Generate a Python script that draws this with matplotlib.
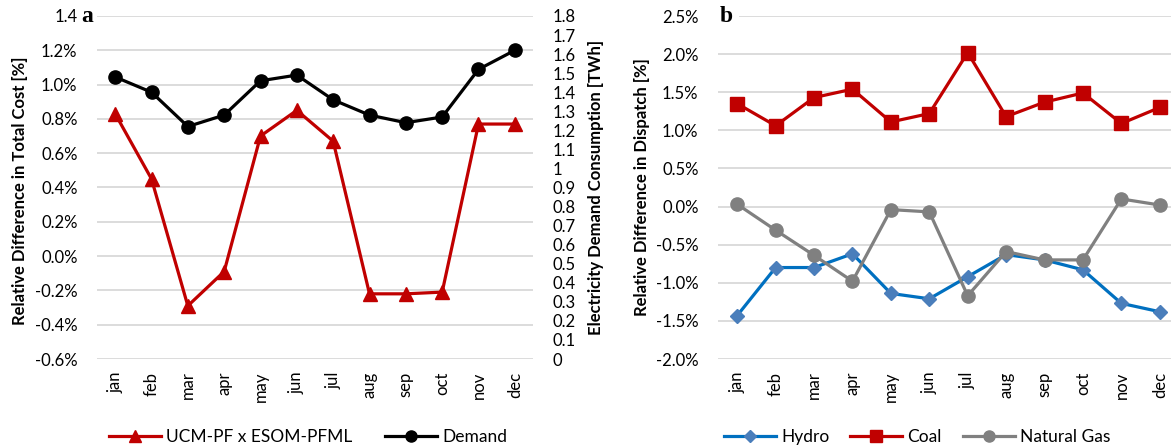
import matplotlib.pyplot as plt
from matplotlib.lines import Line2D

months = ['jan', 'feb', 'mar', 'apr', 'may', 'jun', 'jul', 'aug', 'sep', 'oct', 'nov', 'dec']

# panel a: cost difference (%) and monthly demand (TWh)
cost_diff = [0.83, 0.45, -0.29, -0.09, 0.70, 0.85, 0.67, -0.22, -0.22, -0.21, 0.77, 0.77]
demand = [1.48, 1.40, 1.22, 1.28, 1.46, 1.49, 1.36, 1.28, 1.24, 1.27, 1.52, 1.62]

# panel b: dispatch difference by source (%)
hydro = [-1.43, -0.80, -0.80, -0.62, -1.14, -1.21, -0.92, -0.63, -0.70, -0.83, -1.27, -1.38]
coal = [1.35, 1.06, 1.43, 1.54, 1.11, 1.22, 2.02, 1.18, 1.37, 1.49, 1.09, 1.30]
gas = [0.03, -0.31, -0.64, -0.98, -0.04, -0.07, -1.17, -0.59, -0.70, -0.70, 0.10, 0.02]

cost_ticks = [-0.6, -0.4, -0.2, 0.0, 0.2, 0.4, 0.6, 0.8, 1.0, 1.2, 1.4]
cost_labels = ['-0.6%', '-0.4%', '-0.2%', '0.0%', '0.2%', '0.4%', '0.6%', '0.8%', '1.0%', '1.2%', '1.4']
demand_ticks = [i / 10 for i in range(19)]
demand_labels = ['0', '0.1', '0.2', '0.3', '0.4', '0.5', '0.6', '0.7', '0.8', '0.9',
                 '1', '1.1', '1.2', '1.3', '1.4', '1.5', '1.6', '1.7', '1.8']
disp_ticks = [-2.0, -1.5, -1.0, -0.5, 0.0, 0.5, 1.0, 1.5, 2.0, 2.5]
disp_labels = ['-2.0%', '-1.5%', '-1.0%', '-0.5%', '0.0%', '0.5%', '1.0%', '1.5%', '2.0%', '2.5%']

RED = '#C00000'
BLUE = '#0070C0'
BLUE_MK = '#4A7EBB'
GRAY = '#808080'
GRID = '#D9D9D9'

plt.rcParams['font.family'] = ['Lato', 'DejaVu Sans']
plt.rcParams['font.size'] = 12

W, H = 1171, 448
fig = plt.figure(figsize=(W / 100, H / 100), dpi=100)


def box(x0, y0, x1, y1):
    return [x0 / W, 1 - y1 / H, (x1 - x0) / W, (y1 - y0) / H]


def style(ax):
    for s in ax.spines.values():
        s.set_visible(False)
    ax.tick_params(length=0)
    ax.grid(axis='y', color=GRID, lw=1.3)
    ax.set_axisbelow(True)


x = list(range(12))

# --- panel a ---
ax1 = fig.add_axes(box(97, 16, 533, 359))
style(ax1)
ax1.set_xlim(-0.5, 11.5)
ax1.set_ylim(-0.6, 1.4)
ax1.set_yticks(cost_ticks)
ax1.set_yticklabels(cost_labels)
ax1.set_xticks(x)
ax1.set_xticklabels(months, rotation=90)
ax1.tick_params(axis='x', pad=9)
ax1.tick_params(axis='y', pad=14)
ax1.set_ylabel('Relative Difference in Total Cost [%]', fontweight='bold', fontsize=12)
ax1.yaxis.set_label_coords(-0.158, 0.49)

ax2 = ax1.twinx()
for s in ax2.spines.values():
    s.set_visible(False)
ax2.tick_params(length=0, pad=14)
ax2.set_ylim(0, 1.8)
ax2.set_yticks(demand_ticks)
ax2.set_yticklabels(demand_labels)
ax2.set_ylabel('Electricity Demand Consumption [TWh]', fontweight='bold', fontsize=12)
ax2.yaxis.set_label_coords(1.127, 0.5)

ax1.plot(x, cost_diff, color=RED, lw=2.3, marker='^', ms=10, zorder=3)
ax2.plot(x, demand, color='black', lw=2.3, marker='o', ms=9.5, zorder=3)

ax1.text(-0.01, 1.0, 'a', transform=ax1.transAxes, family='Liberation Serif',
         fontweight='bold', fontsize=17, ha='right', va='center',
         bbox=dict(facecolor='white', edgecolor='none', pad=3))

# --- panel b ---
ax3 = fig.add_axes(box(718, 16, 1179, 359))
style(ax3)
ax3.set_xlim(-0.5, 11.5)
ax3.set_ylim(-2.0, 2.5)
ax3.set_yticks(disp_ticks)
ax3.set_yticklabels(disp_labels)
ax3.set_xticks(x)
ax3.set_xticklabels(months, rotation=90)
ax3.tick_params(axis='x', pad=9)
ax3.tick_params(axis='y', pad=14)
ax3.set_ylabel('Relative Difference in Dispatch [%]', fontweight='bold', fontsize=12)
ax3.yaxis.set_label_coords(-0.148, 0.5)

ax3.plot(x, hydro, color=BLUE, lw=2.3, marker='D', ms=7, mfc=BLUE_MK, mec=BLUE_MK, zorder=3)
ax3.plot(x, coal, color=RED, lw=2.3, marker='s', ms=9.5, zorder=3)
ax3.plot(x, gas, color=GRAY, lw=2.3, marker='o', ms=9.5, zorder=3)

ax3.text(0.004, 1.0, 'b', transform=ax3.transAxes, family='Liberation Serif',
         fontweight='bold', fontsize=17, ha='left', va='center',
         bbox=dict(facecolor='white', edgecolor='none', pad=4))

# legends below each panel
leg_a = [Line2D([], [], color=RED, lw=2.3, marker='^', ms=9),
         Line2D([], [], color='black', lw=2.3, marker='o', ms=8)]
fig.legend(leg_a, ['UCM-PF x ESOM-PFML', 'Demand'], loc='center',
           bbox_to_anchor=(308 / W, 1 - 437 / H), ncol=2, frameon=False,
           handlelength=3.0, columnspacing=1.9, handletextpad=0.3, fontsize=12.5)

leg_b = [Line2D([], [], color=BLUE, lw=2.3, marker='D', ms=6.5, mfc=BLUE_MK, mec=BLUE_MK),
         Line2D([], [], color=RED, lw=2.3, marker='s', ms=8),
         Line2D([], [], color=GRAY, lw=2.3, marker='o', ms=8)]
fig.legend(leg_b, ['Hydro', 'Coal', 'Natural Gas'], loc='center',
           bbox_to_anchor=(917 / W, 1 - 437 / H), ncol=3, frameon=False,
           handlelength=3.0, columnspacing=1.2, handletextpad=0.3, fontsize=12.5)

fig.savefig('out.png', dpi=100)
